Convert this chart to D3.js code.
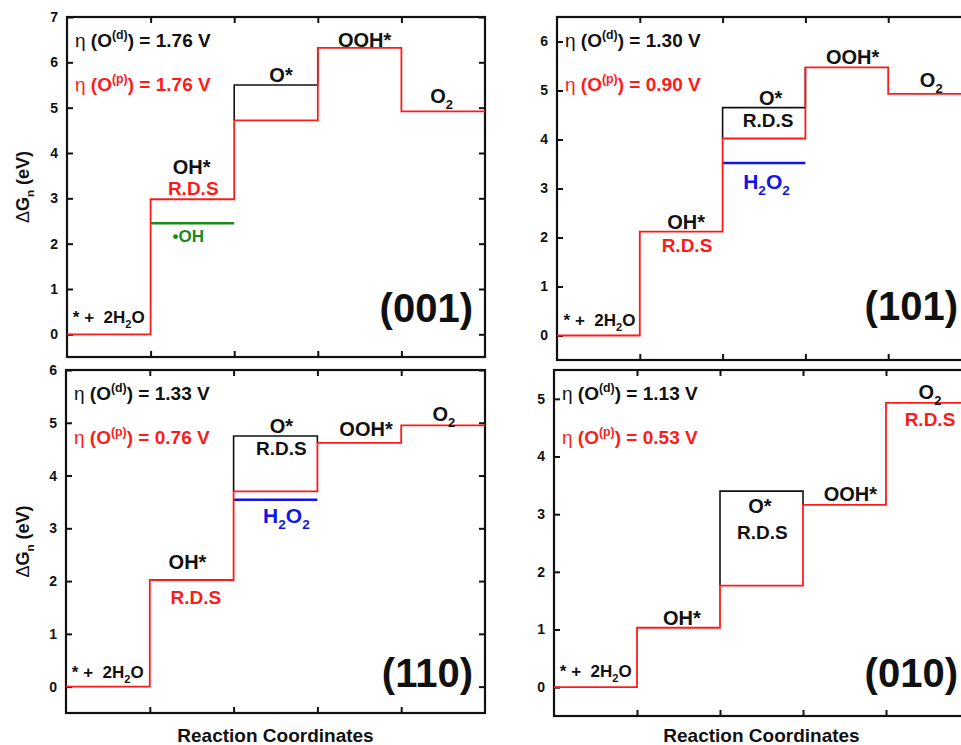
<!DOCTYPE html>
<html><head><meta charset="utf-8">
<script src="https://cdn.jsdelivr.net/npm/d3@7"></script>
<style>
body{margin:0;background:#fff}
svg{display:block}
text{font-family:"Liberation Sans",Arial,sans-serif;font-weight:bold;white-space:pre}
</style>
</head><body>
<svg id="c" width="961" height="745"></svg>
<script>
// ---------- DATA ----------
const facets   = ["(001)", "(101)", "(110)", "(010)"];
const etaD     = ["1.76", "1.30", "1.33", "1.13"];
const etaP     = ["1.76", "0.90", "0.76", "0.53"];
const stepLabels = ["* +  2H_2O", "OH*", "O*", "OOH*", "O_2"];
// red (O^(p)) free-energy levels for the 5 states
const redLevels = [
  [0, 2.98, 4.72, 6.32, 4.92],
  [0, 2.12, 4.02, 5.47, 4.93],
  [0, 2.02, 3.70, 4.62, 4.95],
  [0, 1.03, 1.76, 3.16, 4.93]
];
// black (O^(d)) O* levels
const blackOLevels = [5.50, 4.65, 4.75, 3.40];
// side products
const sideLevels = [2.45, 3.52, 3.54, null];
const sideStep   = [1, 2, 2, null];
const sideNames  = ["•OH", "H_2O_2", "H_2O_2", null];
const sideColors = ["#1a8a1a", "#1414e6", "#1414e6", null];
// rate-determining step labels
const rdsRed   = [1, 1, 1, 4];
const rdsBlack = [null, 2, 2, 2];
const yMaxs    = [7, 6.5, 6, 5.5];
const yTickMax = [7, 6, 6, 5];
const yMin = -0.5;
const yTitle = "ΔG_n (eV)";
const xTitle = "Reaction Coordinates";

// ---------- LAYOUT ----------
const boxes = [[67,17,485,357],[557,17,971,360],[66,370,485,713],[554,370,969,716]];
// label placement: [x in step units, pixel dy from level]
const labelPos = [
  {start:[0.07,-11], lab:[[1.49,-25],[2.56,-3],[3.56,-1],[4.48,-8]], rdsR:[1.51,-4], rdsB:null, side:[1.45,19], facet:[12,0.27]},
  {start:[0.08,-10], lab:[[1.56,-3],[2.58,-3],[3.57,-3],[4.52,-7]], rdsR:[1.57,20], rdsB:[2.55,19], side:[2.53,26], facet:[13,0.31]},
  {start:[0.07,-9],  lab:[[1.45,-11],[2.57,-3],[3.58,-7],[4.51,-4]], rdsR:[1.55,24], rdsB:[2.57,19], side:[2.63,23], facet:[12,0.0]},
  {start:[0.07,-10], lab:[[1.54,-3],[2.48,22],[3.57,-4],[4.53,-4]], rdsR:[4.53,23], rdsB:[2.51,48], side:null, facet:[11,0.0]}
];
const RED = "#ff1a1a";

const svg = d3.select("#c");

function parse(s){
  const out=[]; const re=/_(\w)|\^\{([^}]*)\}|(η|Δ)/g; let last=0,m;
  while((m=re.exec(s))){
    if(m.index>last) out.push([s.slice(last,m.index),"n"]);
    if(m[1]) out.push([m[1],"sub"]); else if(m[2]) out.push([m[2],"sup"]); else out.push([m[3],"thin"]);
    last=re.lastIndex;
  }
  if(last<s.length) out.push([s.slice(last),"n"]);
  return out;
}
function rich(g, x, y, str, size, color, anchor){
  const t = g.append("text").attr("x",x).attr("y",y).attr("font-size",size)
    .attr("fill",color).attr("text-anchor",anchor||"middle");
  let shift=0;
  parse(str).forEach(([s,mode])=>{
    const target = mode==="sub"? size*0.3 : mode==="sup"? -size*0.42 : 0;
    const ts = t.append("tspan").text(s).attr("dy", target-shift);
    shift=target;
    if(mode==="sub"||mode==="sup") ts.attr("font-size", size*0.65);
    if(mode==="thin") ts.attr("font-weight","normal");
  });
  return t;
}

facets.forEach((name,i)=>{
  const [l,t,r,b]=boxes[i];
  const x=d3.scaleLinear().domain([0,5]).range([l,r]);
  const y=d3.scaleLinear().domain([yMin,yMaxs[i]]).range([b,t]);
  const g=svg.append("g");
  const yt=d3.range(0,yTickMax[i]+1);
  const xt=[1,2,3,4];
  const styleAxis = a=>{a.select(".domain").remove(); a.selectAll(".tick line").attr("stroke","#111").attr("stroke-width",2);};
  g.append("g").attr("transform",`translate(${l},0)`)
    .call(d3.axisLeft(y).tickValues(yt).tickSize(-6).tickPadding(9).tickFormat(d3.format("d")))
    .call(styleAxis)
    .call(a=>a.selectAll(".tick text").attr("font-size",14).attr("fill","#111").attr("font-family",null));
  g.append("g").attr("transform",`translate(${r},0)`)
    .call(d3.axisRight(y).tickValues(yt).tickSize(-6).tickFormat("")).call(styleAxis);
  g.append("g").attr("transform",`translate(0,${t})`)
    .call(d3.axisTop(x).tickValues(xt).tickSize(-6).tickFormat("")).call(styleAxis);
  g.append("g").attr("transform",`translate(0,${b})`)
    .call(d3.axisBottom(x).tickValues(xt).tickSize(-6).tickFormat("")).call(styleAxis);
  g.append("rect").attr("x",l).attr("y",t).attr("width",r-l).attr("height",b-t)
    .attr("fill","none").attr("stroke","#111").attr("stroke-width",2.2);

  const red=redLevels[i];
  const line=d3.line().x(d=>x(d[0])).y(d=>y(d[1]));
  // black O^(d) path
  g.append("path").attr("d",line([[2,red[2]],[2,blackOLevels[i]],[3,blackOLevels[i]],[3,red[3]]]))
    .attr("fill","none").attr("stroke","#111").attr("stroke-width",1.6);
  // side product line
  if(sideLevels[i]!=null){
    g.append("path").attr("d",line([[sideStep[i],sideLevels[i]],[sideStep[i]+1,sideLevels[i]]]))
      .attr("fill","none").attr("stroke",sideColors[i]).attr("stroke-width",2.6);
  }
  // red step path
  const pts=red.map((v,k)=>[k,v]).concat([[5,red[4]]]);
  g.append("path").attr("d",line.curve(d3.curveStepAfter)(pts))
    .attr("fill","none").attr("stroke",RED).attr("stroke-width",1.8);
  line.curve(d3.curveLinear);

  const P=labelPos[i];
  // state labels
  rich(g, x(P.start[0]), y(0)+P.start[1], stepLabels[0], 17, "#111", "start");
  const lev=[red[1], blackOLevels[i], red[3], red[4]];
  P.lab.forEach((p,k)=>{
    rich(g, x(p[0]), y(lev[k])+p[1], stepLabels[k+1], 20, "#111", "middle");
  });
  if(rdsRed[i]!=null) rich(g, x(P.rdsR[0]), y(red[rdsRed[i]])+P.rdsR[1], "R.D.S", 19, RED, "middle");
  if(rdsBlack[i]!=null) rich(g, x(P.rdsB[0]), y(blackOLevels[i])+P.rdsB[1], "R.D.S", 19, "#111", "middle");
  if(sideLevels[i]!=null) rich(g, x(P.side[0]), y(sideLevels[i])+P.side[1], sideNames[i], i===0?17:21, sideColors[i], "middle");
  // eta labels
  rich(g, l+8, t+30, "η (O^{(d)}) = "+etaD[i]+" V", 19, "#111", "start");
  rich(g, l+8, t+74, "η (O^{(p)}) = "+etaP[i]+" V", 19, RED, "start");
  // facet label
  g.append("text").attr("x",r-P.facet[0]).attr("y",y(P.facet[1])).attr("text-anchor","end")
    .attr("font-size",40).attr("fill","#111").text(name);
  // axis titles
  if(i%2===0){
    const tt=rich(g, 0, 0, yTitle, 18, "#111", "middle");
    tt.attr("transform",`translate(29,${(t+b)/2}) rotate(-90)`);
  }
  if(i>=2){
    rich(g, (l+r)/2, 742, xTitle, 19, "#111", "middle");
  }
});
</script>
</body></html>
